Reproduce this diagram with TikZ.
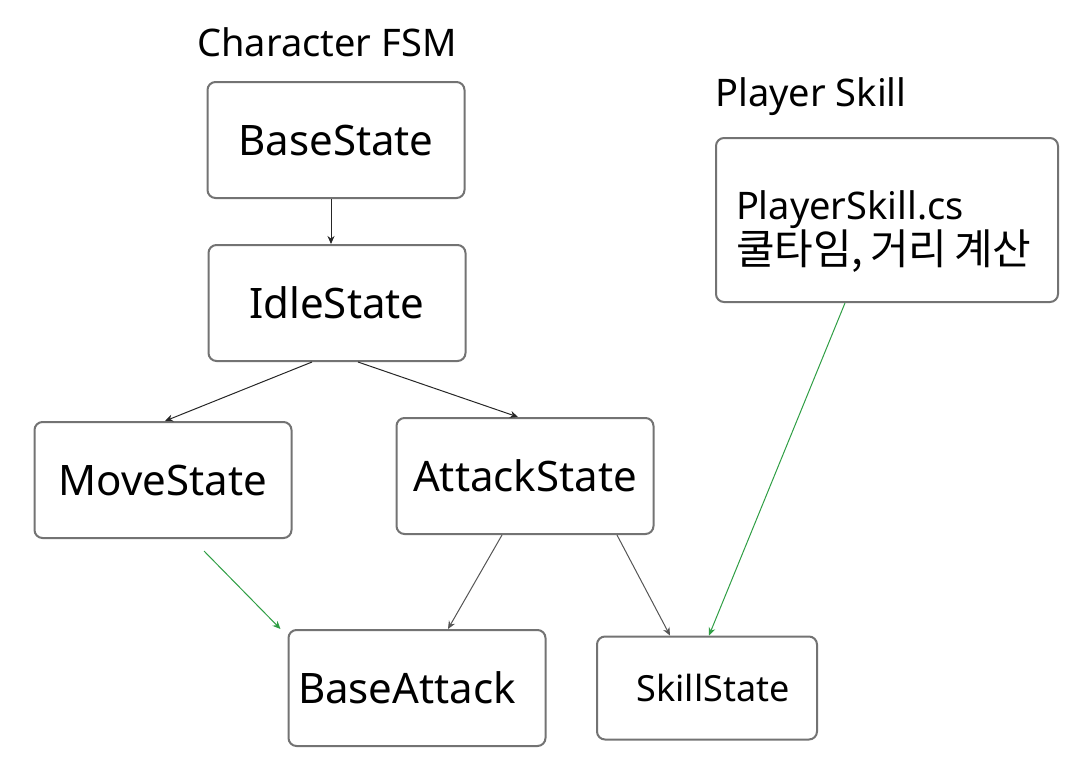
\documentclass[tikz,border=0pt]{standalone}
\usepackage{fontspec}
\setmainfont{Noto Sans}
\newfontfamily\kr{Noto Sans CJK KR}
\usetikzlibrary{arrows.meta,calc,positioning}
\definecolor{skgreen}{RGB}{47,158,68}
\definecolor{edgegray}{RGB}{85,85,85}
\newcommand{\fs}[1]{\fontsize{#1}{#1}\selectfont}

\begin{document}
\begin{tikzpicture}[x=0.5pt,y=-0.5pt,
    st/.style={draw=black!55, line width=1pt, rounded corners=4pt, fill=white,
      minimum width=128.5pt, minimum height=58pt, inner sep=0pt},
    ttl/.style={inner sep=0pt},
    tip/.style={-{Stealth[length=4pt,width=3.5pt]}, line width=0.5pt}]
  \useasboundingbox (0,0) rectangle (1067,757);

  % titles
  \node[ttl] (fsm) at (327,42) {\fs{19}Character FSM};
  \node[ttl] (psk) at (811,97) {\fs{19}Player Skill};

  % states
  \node[st] (base) at (336,140) {\fs{21}BaseState};
  \node[st] (idle) at (337,303) {\fs{21}IdleState};
  \node[st] (move) at (163,480) {\fs{21}MoveState};
  \node[st] (attack) at (525,476) {\fs{21}AttackState};
  \node[st] (batk) at (417,688) {\fs{21}BaseAttack\hspace*{10pt}};
  \node[st, minimum width=110pt, minimum height=51.5pt] (skill) at (707,688) {\hspace*{6pt}\fs{18}SkillState};

  % player skill box
  \node[st, minimum width=171pt, minimum height=82pt, text width=151pt,
    align=left, inner xsep=10pt] (pskill) at (887,220)
    {\fontsize{19}{22}\selectfont\rule{0pt}{26pt}PlayerSkill.cs\\{\kr\fontsize{21}{22}\selectfont 쿨타임, 거리 계산}};

  \coordinate (m0) at ($(move.south)+(41,12)$);

  \draw[tip, black!85] (base.south -| 331,0) -- (idle.north -| 331,0);
  \draw[tip, black!85] ($(idle.south)+(-25,0)$) -- ($(move.north)+(2,0)$);
  \draw[tip, black!85] ($(idle.south)+(21,0)$) -- ($(attack.north)+(-7,0)$);
  \draw[tip, edgegray] ($(attack.south)+(-23,0)$) -- ($(batk.north)+(31,0)$);
  \draw[tip, edgegray] ($(attack.south)+(92,0)$) -- ($(skill.north)+(-37,0)$);
  \draw[tip, skgreen] (m0) -- ($(batk.north west)+(-7,0)$);
  \draw[tip, skgreen] ($(pskill.south)+(-42,0)$) -- ($(skill.north)+(2,0)$);
\end{tikzpicture}
\end{document}
